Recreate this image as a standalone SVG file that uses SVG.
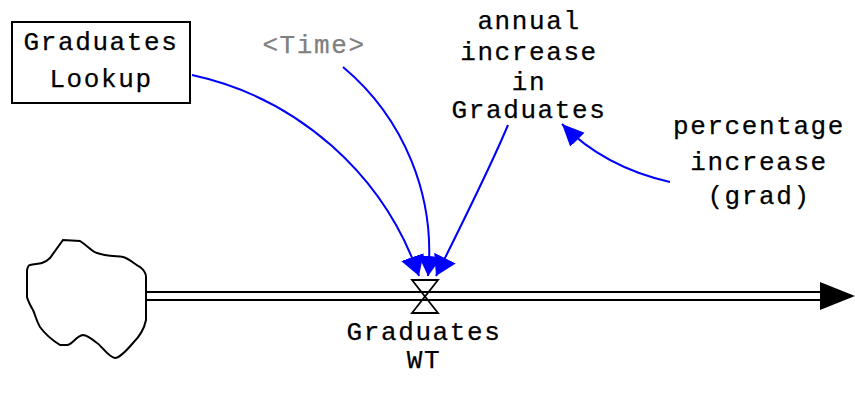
<svg xmlns="http://www.w3.org/2000/svg" width="855" height="399" viewBox="0 0 855 399">
<style>
text{font-family:"Liberation Mono","Courier New",monospace;font-size:26px;letter-spacing:1.6px;text-anchor:middle;fill:#000;stroke:#000;stroke-width:0.25}
text.gray{fill:#808080;stroke:#808080}
.link{fill:none;stroke:#0000ff;stroke-width:2}
.pipe{fill:none;stroke:#000;stroke-width:2}
</style>
<defs>
<marker id="ah" markerUnits="userSpaceOnUse" markerWidth="22" markerHeight="22" viewBox="0 0 22 22" refX="22" refY="11" orient="auto">
<path d="M0,1 L22,11 L0,21 z" fill="#0000ff"/>
</marker>
<marker id="ahw" markerUnits="userSpaceOnUse" markerWidth="20" markerHeight="24" viewBox="0 0 20 24" refX="20" refY="12" orient="auto">
<path d="M0,0 L20,12 L0,24 z" fill="#0000ff"/>
</marker>
</defs>
<rect width="855" height="399" fill="#fff"/>
<g id="connectors">
<path class="link" d="M192,75 A310,310 0 0 1 419,276" marker-end="url(#ahw)"/>
<path class="link" d="M343,67 A241,241 0 0 1 428,276" marker-end="url(#ahw)"/>
<path class="link" d="M508,125 Q490,168 436,276" marker-end="url(#ahw)"/>
<path class="link" d="M670,182 Q604,167 562,124" marker-end="url(#ah)"/>
</g>
<g id="pipe">
<line class="pipe" x1="146" y1="292" x2="822" y2="292"/>
<line class="pipe" x1="146" y1="300" x2="822" y2="300"/>
<path d="M820,282 L855,296 L820,310 z" fill="#000"/>
</g>
<g id="cloud">
<path d="M63,240 L80,241 C88,246 92,252 97,253 C105,256 115,256 123,257 C130,259 134,264 140,267 C144,270 146,273 146,277 L146,320 C144,330 139,337 133,343 C127,350 120,358 115,358 C108,357 102,346 97,343 C92,339 87,335 83,335 C76,336 72,345 67,345 L60,345 C52,340 45,334 40,327 C36,320 35,314 33,310 C30,305 28,301 27,297 L27,270 C28,266 29,265 30,265 C34,264 38,264 42,263 C46,262 48,260 50,258 Z" fill="#fff" stroke="#000" stroke-width="2"/>
</g>
<g id="valve">
<path d="M412,280 L438,280 L425,296.5 Z M425,296.5 L438,313 L412,313 Z" fill="none" stroke="#000" stroke-width="1.8"/>
<text x="424" y="340">Graduates</text>
<text x="424" y="368">WT</text>
</g>
<g id="graduates-lookup">
<rect x="12" y="22" width="178" height="81" fill="#fff" stroke="#000" stroke-width="2"/>
<text x="101" y="50">Graduates</text>
<text x="101" y="87">Lookup</text>
</g>
<g id="time">
<text class="gray" x="314" y="53">&lt;Time&gt;</text>
</g>
<g id="annual-increase">
<text x="529" y="29">annual</text>
<text x="529" y="60">increase</text>
<text x="529" y="90">in</text>
<text x="529" y="118">Graduates</text>
</g>
<g id="percentage-increase">
<text x="759" y="134">percentage</text>
<text x="759" y="170">increase</text>
<text x="759" y="204">(grad)</text>
</g>
</svg>
